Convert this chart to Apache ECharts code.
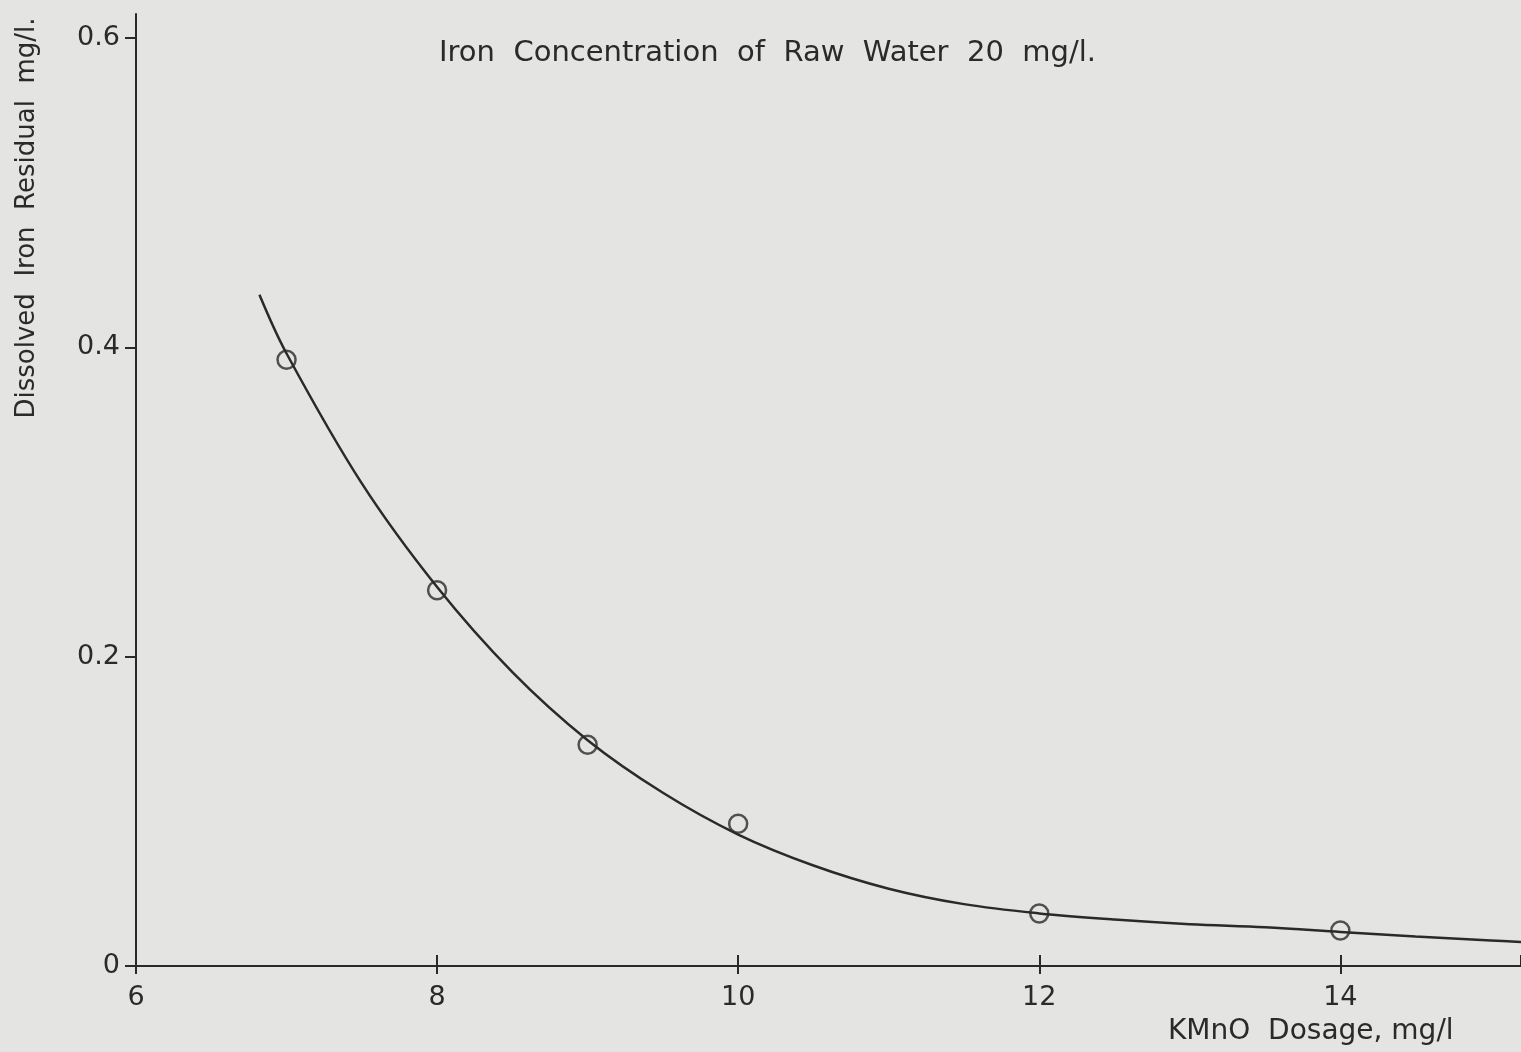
<!DOCTYPE html>
<html>
<head>
<meta charset="utf-8">
<script src="https://cdn.jsdelivr.net/npm/echarts@6/dist/echarts.min.js"></script>
<style>
html,body{margin:0;padding:0;background:#e4e4e3;}
#c{width:1521px;height:1052px;}
</style>
</head>
<body>
<div id="c"></div>
<script>
// Measured points (KMnO dosage mg/l, dissolved iron residual mg/l)
const pointX = [7, 8, 9, 10, 12, 14];
const pointY = [0.392, 0.243, 0.143, 0.092, 0.034, 0.023];
// Hand-drawn fitted curve
const curveX = [6.82, 7.0, 7.5, 8.0, 8.5, 9.0, 9.5, 10.0, 10.5, 11.0, 11.5, 12.0, 12.5, 13.0, 13.5, 14.0, 14.5, 15.0, 15.2];
const curveY = [0.434, 0.396, 0.312, 0.245, 0.190, 0.146, 0.112, 0.085, 0.065, 0.050, 0.040, 0.034, 0.030, 0.027, 0.025, 0.022, 0.019, 0.0165, 0.0155];
const xTicks = [6, 8, 10, 12, 14];
const yTicks = [0, 0.2, 0.4, 0.6];

const titleText = 'Iron  Concentration  of  Raw  Water  20  mg/l.';
const yName = 'Dissolved  Iron  Residual  mg/l.';
const xName = 'KMnO  Dosage, mg/l';

const ink = '#2a2a2a';
const font = '"DejaVu Sans", "Liberation Sans", sans-serif';

const chart = echarts.init(document.getElementById('c'), null, {renderer: 'canvas'});
const grid = {left: 136, top: 14, right: 0, bottom: 86};
const X_MIN = 6, X_MAX = 15.2, Y_MIN = 0, Y_MAX = 0.6155;

chart.setOption({
  backgroundColor: '#e4e4e3',
  animation: false,
  title: [
    {text: titleText, left: 434, top: 34,
     textStyle: {fontFamily: font, fontSize: 29, fontWeight: 'normal', color: ink}},
    {text: xName, left: 1163, top: 1013,
     textStyle: {fontFamily: font, fontSize: 28, fontWeight: 'normal', color: ink}}
  ],
  graphic: [{
    type: 'text', x: 27, y: 218, rotation: Math.PI / 2,
    style: {text: yName, fontFamily: font, fontSize: 26, fill: ink,
            textAlign: 'center', textVerticalAlign: 'middle'}
  }],
  grid: grid,
  xAxis: [{
    type: 'value', min: X_MIN, max: X_MAX, interval: 2, position: 'bottom',
    axisLine: {show: true, lineStyle: {color: ink, width: 2}},
    axisTick: {show: true, inside: false, length: 8, lineStyle: {color: ink, width: 2}},
    axisLabel: {show: true, margin: 18, fontFamily: font, fontSize: 27, color: ink,
      showMaxLabel: false,
      formatter: v => (xTicks.indexOf(v) >= 0 ? String(v) : '')},
    splitLine: {show: false}
  }, {
    type: 'value', min: X_MIN, max: X_MAX, interval: 2, position: 'bottom', offset: 0,
    axisLine: {show: false},
    axisTick: {show: true, inside: true, length: 11, lineStyle: {color: ink, width: 2}},
    axisLabel: {show: false},
    splitLine: {show: false}
  }],
  yAxis: [{
    type: 'value', min: Y_MIN, max: Y_MAX, interval: 0.2,
    axisLine: {show: true, lineStyle: {color: ink, width: 2}},
    axisTick: {show: true, inside: false, length: 11, lineStyle: {color: ink, width: 2}},
    axisLabel: {show: true, margin: 16, fontFamily: font, fontSize: 27, color: ink,
      showMaxLabel: false,
      formatter: v => {
        const t = yTicks.find(k => Math.abs(k - v) < 1e-6);
        return t === undefined ? '' : (t === 0 ? '0' : t.toFixed(1));
      }},
    splitLine: {show: false}
  }],
  series: [{
    type: 'line', name: 'curve', xAxisIndex: 0,
    data: curveX.map((x, i) => [x, curveY[i]]),
    smooth: 0.35, showSymbol: false, symbol: 'none',
    lineStyle: {color: ink, width: 2.5}
  }, {
    type: 'scatter', name: 'points', xAxisIndex: 0,
    data: pointX.map((x, i) => [x, pointY[i]]),
    symbol: 'circle', symbolSize: 18,
    itemStyle: {color: 'rgba(0,0,0,0)', borderColor: ink, borderWidth: 2.5},
    z: 3
  }]
});
</script>
</body>
</html>
